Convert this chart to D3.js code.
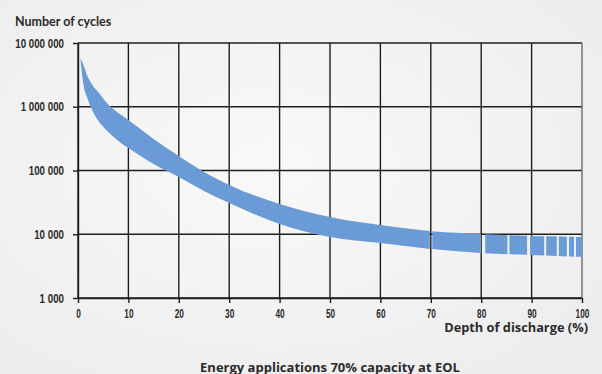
<!DOCTYPE html>
<html>
<head>
<meta charset="utf-8">
<script src="https://cdn.jsdelivr.net/npm/d3@7"></script>
<style>
  html, body { margin: 0; padding: 0; background: #f1f1f1; }
  svg { display: block; }
</style>
</head>
<body>
<svg id="chart" width="602" height="374"></svg>
<script>
// ---- data ----
const depthOfDischarge = [0.5, 1, 2, 3, 4, 6, 8, 10, 15, 20, 25, 30, 40, 50, 60, 70, 80, 90, 100];
const cyclesUpper = [5700000, 4700000, 2880000, 2110000, 1700000, 1080000, 798000, 620000, 312000, 169000, 94700, 59300, 29800, 18700, 14000, 11200, 10100, 9400, 9060];
const cyclesLower = [5410000, 2440000, 1280000, 828000, 608000, 402000, 290000, 225000, 126000, 79000, 47700, 30900, 14500, 9060, 7300, 5870, 5080, 4730, 4400];
// white breaks in the band (depth of discharge, %)
const gapStart = [69.8, 80.0, 85.2, 89.1, 92.5, 95.0, 97.0, 98.4];
const gapEnd   = [70.3, 80.8, 85.6, 89.7, 92.9, 95.4, 97.4, 98.8];
const yTickValues = [1000, 10000, 100000, 1000000, 10000000];
const yTickLabels = ["1 000", "10 000", "100 000", "1 000 000", "10 000 000"];
const xTickValues = [0, 10, 20, 30, 40, 50, 60, 70, 80, 90, 100];
const yTitle = "Number of cycles";
const xTitle = "Depth of discharge (%)";
const caption = "Energy applications 70% capacity at EOL";

// ---- layout ----
const W = 602, H = 374;
const plot = { left: 78, right: 582, top: 43, bottom: 298 };
const svg = d3.select("#chart");

const defs = svg.append("defs");
const bg = defs.append("radialGradient").attr("id", "bg").attr("cx", "45%").attr("cy", "45%").attr("r", "75%");
bg.append("stop").attr("offset", "0%").attr("stop-color", "#f9f9f9");
bg.append("stop").attr("offset", "100%").attr("stop-color", "#ececec");
svg.append("rect").attr("width", W).attr("height", H).attr("fill", "url(#bg)");

const x = d3.scaleLinear().domain([0, 100]).range([plot.left, plot.right]);
const y = d3.scaleLog().domain([1000, 10000000]).range([plot.bottom, plot.top]);

// grid
const grid = svg.append("g").attr("stroke-width", 1.4).attr("fill", "none");
grid.selectAll("line.h").data(yTickValues).join("line")
  .attr("x1", plot.left).attr("x2", plot.right)
  .attr("y1", d => y(d)).attr("y2", d => y(d))
  .attr("stroke", "#1e1e1e");
grid.selectAll("line.v").data(xTickValues).join("line")
  .attr("x1", d => x(d)).attr("x2", d => x(d))
  .attr("y1", plot.top).attr("y2", plot.bottom)
  .attr("stroke", d => d === 100 ? "#6a6a6a" : "#1e1e1e");

// band
const rows = depthOfDischarge.map((d, i) => ({ d, hi: cyclesUpper[i], lo: cyclesLower[i] }));
const area = d3.area()
  .x(r => x(r.d))
  .y0(r => y(r.lo))
  .y1(r => y(r.hi))
  .curve(d3.curveMonotoneX);

const segStarts = [depthOfDischarge[0]].concat(gapEnd);
const segEnds = gapStart.concat([100]);
segStarts.forEach((s, i) => {
  const id = "seg" + i;
  defs.append("clipPath").attr("id", id).append("rect")
    .attr("x", x(s) - (i === 0 ? 2 : 0)).attr("y", 0)
    .attr("width", x(segEnds[i]) - x(s) + (i === 0 ? 2 : 0)).attr("height", H);
  svg.append("path").datum(rows)
    .attr("d", area)
    .attr("fill", "#6b9bd6")
    .attr("clip-path", `url(#${id})`);
});

// axes
const tickFont = "'Liberation Sans', Arial, sans-serif";
const ySx = 0.75, xSx = 0.66;
const yPad = 9, tick = 5;
const yAxis = svg.append("g").attr("transform", `translate(${plot.left},0)`)
  .call(d3.axisLeft(y).tickValues(yTickValues).tickSize(tick).tickSizeOuter(0).tickPadding(yPad)
    .tickFormat((d, i) => yTickLabels[i]));
const xAxis = svg.append("g").attr("transform", `translate(0,${plot.bottom})`)
  .call(d3.axisBottom(x).tickValues(xTickValues).tickSize(tick).tickSizeOuter(0).tickPadding(6.5)
    .tickFormat(d3.format("d")));
[yAxis, xAxis].forEach(g => {
  g.select(".domain").attr("stroke", "#1e1e1e").attr("stroke-width", 1.4);
  g.selectAll(".tick line").attr("stroke", "#1e1e1e").attr("stroke-width", 1.4);
  g.selectAll(".tick text").attr("fill", "#2b2b2b")
    .style("font-family", tickFont).style("font-weight", "bold");
});
yAxis.selectAll(".tick text").style("font-size", "13px")
  .attr("x", -(tick + yPad) / ySx)
  .attr("transform", `scale(${ySx},1)`);
xAxis.selectAll(".tick text").style("font-size", "12.5px")
  .attr("transform", `scale(${xSx},1)`);

// titles
svg.append("text").attr("x", 15).attr("y", 25.5).text(yTitle)
  .style("font-family", "Lato, sans-serif").style("font-weight", "bold").style("font-size", "12.5px").attr("fill", "#2b2b2b");
svg.append("text").attr("x", 588).attr("y", 332).attr("text-anchor", "end").text(xTitle)
  .style("font-family", "'Open Sans', sans-serif").style("font-weight", "bold").style("font-size", "12.8px").attr("fill", "#2b2b2b");
svg.append("text").attr("x", 330).attr("y", 371.5).attr("text-anchor", "middle").text(caption)
  .style("font-family", "'Open Sans', sans-serif").style("font-weight", "bold").style("font-size", "13px").attr("fill", "#2b2b2b");
</script>
</body>
</html>
